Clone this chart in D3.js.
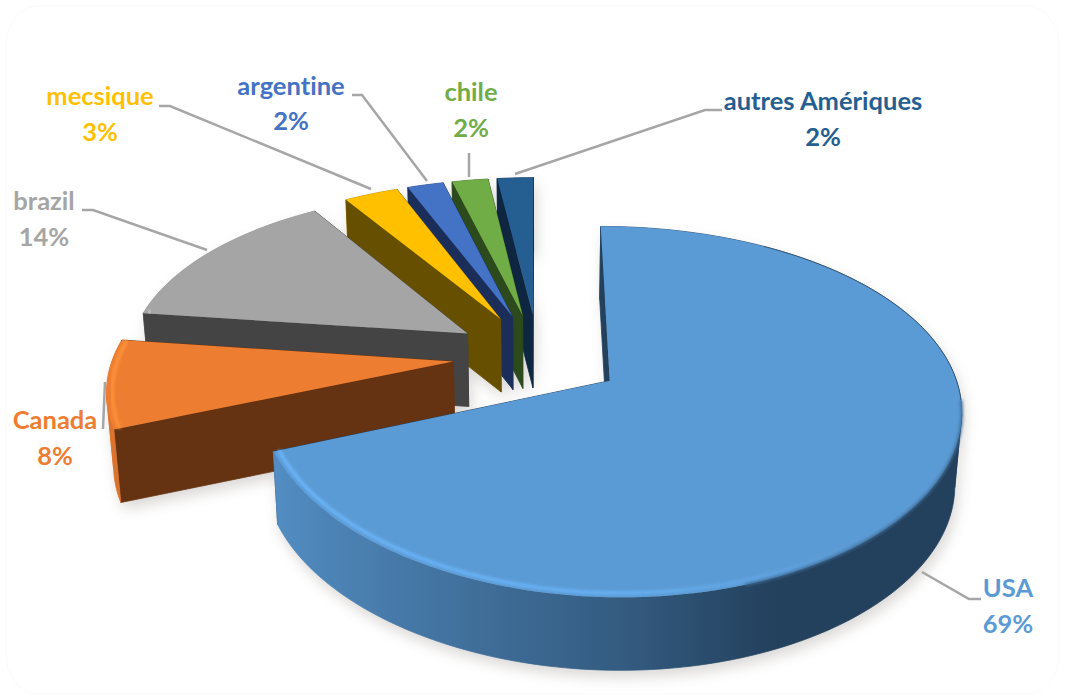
<!DOCTYPE html>
<html>
<head>
<meta charset="utf-8">
<script src="https://cdn.jsdelivr.net/npm/d3@7/dist/d3.min.js"></script>
<style>
  html, body { margin: 0; padding: 0; background: #fff; }
  svg { display: block; }
  text { font-family: Lato, "Open Sans", sans-serif; font-weight: 700; font-size: 25.5px; font-variant-ligatures: none; }
</style>
</head>
<body>
<svg id="chart" width="1065" height="700"></svg>
<script>
// Shares of the American total, in percent, clockwise from twelve o'clock
const categories = ["USA", "Canada", "brazil", "mecsique", "argentine", "chile", "autres Amériques"];
const shares = [69, 8, 14, 3, 2, 2, 2];

// Face colours and the darker side colours
const topColors = ["#5b9bd5", "#ed7d31", "#a5a5a5", "#ffc000", "#4472c4", "#70ad47", "#255e91"];
const sideColors = ["#23405c", "#663312", "#444444", "#665000", "#1b2e59", "#2d4a1c", "#0f2640"];

// Label anchors: centre x, first baseline, second baseline
const labelAnchors = [
  [1008, 597, 633], [55, 429, 465], [44, 210, 246], [100, 105, 141],
  [291, 95, 130], [471, 101, 137], [823, 110, 146]
];
// Leader lines from each label towards its slice
const leaders = [
  [[922, 572], [969, 599], [981, 599]],
  [[105, 382], [103, 429]],
  [[82, 210], [93, 210], [207, 250]],
  [[159, 106], [170, 106], [371, 189]],
  [[352, 95], [362, 95], [427, 181]],
  [[469, 153], [469, 177]],
  [[722, 110], [705, 110], [515, 174]]
];

// Perspective camera for the tilted disc
const camera = { x0: 538, y0: 356, a: 340, b: 172, kx: 0.14, ky: 0.164, depth: 73, shrink: 0.9835 };
const explode = 0.25;

function project(u, v, lower) {
  let x = camera.x0 + camera.a * u / (1 - camera.kx * v);
  let y = camera.y0 + camera.b * v / (1 - camera.ky * v);
  if (lower) {
    x = camera.x0 + (x - camera.x0) * camera.shrink;
    y += camera.depth;
  }
  return [x, y];
}

const svg = d3.select("#chart");
const defs = svg.append("defs");
defs.append("filter").attr("id", "soft").attr("x", "-20%").attr("y", "-20%").attr("width", "140%").attr("height", "140%")
  .append("feGaussianBlur").attr("stdDeviation", 7);
defs.append("filter").attr("id", "bevel").attr("x", "-5%").attr("y", "-5%").attr("width", "110%").attr("height", "110%")
  .append("feGaussianBlur").attr("stdDeviation", 1.5);

// Faint rounded card behind the chart
svg.append("rect").attr("x", 6).attr("y", 6).attr("width", 1053).attr("height", 688).attr("rx", 32).attr("ry", 40)
  .attr("fill", "#fff").attr("stroke", "#fbfbfb");

const line = d3.line();
const pie = d3.pie().sort(null).value(d => d)(shares);
const step = Math.PI / 120;

// Geometry of every slice from the pie layout
const slices = pie.map((d, i) => {
  const mid = (d.startAngle + d.endAngle) / 2;
  const cu = explode * Math.sin(mid);
  const cv = -explode * Math.cos(mid);
  const angles = d3.range(d.startAngle, d.endAngle, step).concat([d.endAngle]);
  const rim = angles.map(a => [a, cu + Math.sin(a), cv - Math.cos(a)]);
  return { i, cu, cv, rim };
});

const shade = d3.scaleLinear().domain([-1, 0, 0.4]).range([0.12, 0.7, 1]).clamp(true);

// Side shading runs left to right across the near half of the rim
slices.forEach(s => {
  const near = s.rim.filter(r => Math.cos(r[0]) < 0);
  const tint = d3.interpolateRgb(topColors[s.i], sideColors[s.i]);
  if (near.length < 2) { s.rimFill = tint(shade(Math.sin(s.rim[0][0]))); return; }
  const xs = near.map(r => project(r[1], r[2], true)[0]);
  const x0 = d3.min(xs), x1 = d3.max(xs);
  const grad = defs.append("linearGradient").attr("id", "rim" + s.i).attr("gradientUnits", "userSpaceOnUse")
    .attr("x1", x0).attr("x2", x1).attr("y1", 0).attr("y2", 0);
  near.map((r, j) => [(xs[j] - x0) / (x1 - x0), tint(shade(Math.sin(r[0])))])
    .sort((m, n) => d3.ascending(m[0], n[0]))
    .forEach(st => grad.append("stop").attr("offset", st[0]).attr("stop-color", st[1]));
  s.rimFill = "url(#rim" + s.i + ")";
});

function wallQuad(p, q) {
  return line([project(p[0], p[1]), project(q[0], q[1]), project(q[0], q[1], true), project(p[0], p[1], true)]) + "Z";
}

// Outer wall strip along a run of consecutive rim points
function rimStrip(run) {
  const upper = run.map(r => project(r[1], r[2]));
  const lower = run.map(r => project(r[1], r[2], true)).reverse();
  return line(upper.concat(lower)) + "Z";
}

function wallPieces(s) {
  const apex = [s.cu, s.cv];
  const first = s.rim[0], last = s.rim[s.rim.length - 1];
  const d0 = (s.cv + first[2]) / 2, d1 = (s.cv + last[2]) / 2;
  const pieces = [
    { d: wallQuad(apex, [first[1], first[2]]), depth: d0, fill: sideColors[s.i] },
    { d: wallQuad(apex, [last[1], last[2]]), depth: d1, fill: sideColors[s.i] }
  ];
  // Rim parts nearer than both cut faces go on top of them, the rest underneath
  const limit = Math.max(d0, d1);
  let run = [s.rim[0]];
  for (let j = 1; j < s.rim.length; j++) {
    const r = s.rim[j];
    run.push(r);
    const flips = j < s.rim.length - 1 && (r[2] > limit) !== (s.rim[j + 1][2] > limit);
    if (flips || j === s.rim.length - 1) {
      const meanV = d3.mean(run, t => t[2]);
      pieces.push({ d: rimStrip(run), depth: meanV > limit ? limit + 1 : limit - 1, fill: s.rimFill });
      run = [r];
    }
  }
  return pieces.sort((m, n) => d3.ascending(m.depth, n.depth));
}

function facePath(s) {
  const pts = [project(s.cu, s.cv)].concat(s.rim.map(r => project(r[1], r[2])));
  return line(pts) + "Z";
}

// Soft shadow under the whole stack
const shadow = svg.append("g").attr("filter", "url(#soft)").attr("opacity", 0.2)
  .attr("transform", "translate(3,7)");
slices.forEach(s => {
  shadow.selectAll(null).data(wallPieces(s)).join("path").attr("d", d => d.d).attr("fill", "#4a4036");
});

const bevelStrength = d3.scaleLinear().domain([-1, 0, 0.6]).range([1, 0.75, 0]).clamp(true);

// Far slices first so nearer ones overlap them
slices.slice().reverse().forEach(s => {
  const g = svg.append("g");
  g.selectAll(null).data(wallPieces(s)).join("path")
    .attr("d", d => d.d).attr("fill", d => d.fill).attr("stroke", d => d.fill).attr("stroke-width", 0.8);
  g.append("path").attr("d", facePath(s)).attr("fill", topColors[s.i]);

  // Light bevel along the near rim, soft edge on the near right, hairline on the far right
  const edges = g.append("g").attr("filter", "url(#bevel)");
  const fine = g.append("g");
  const inset = r => [s.cu + (r[1] - s.cu) * 0.984, s.cv + (r[2] - s.cv) * 0.984];
  d3.pairs(s.rim).forEach(([p, q]) => {
    const a = (p[0] + q[0]) / 2, sin = Math.sin(a), depth = -Math.cos(a);
    const strength = bevelStrength(sin) * (depth > -0.15 ? 1 : 0);
    if (strength > 0) {
      const ip = inset(p), iq = inset(q);
      edges.append("path").attr("d", line([project(ip[0], ip[1]), project(iq[0], iq[1])]))
        .attr("stroke", d3.color(topColors[s.i]).brighter(0.5).formatHex())
        .attr("stroke-width", 3.4).attr("stroke-opacity", strength).attr("fill", "none");
    }
    if (sin > 0.3 && depth > 0.1) {
      edges.append("path").attr("d", line([project(p[1], p[2]), project(q[1], q[2])]))
        .attr("stroke", d3.interpolateRgb(topColors[s.i], sideColors[s.i])(0.5))
        .attr("stroke-width", 2.6).attr("fill", "none");
    }
    if (sin > 0.3 && depth > -0.85 && depth <= 0.1) {
      fine.append("path").attr("d", line([project(p[1], p[2]), project(q[1], q[2])]))
        .attr("stroke", sideColors[s.i]).attr("stroke-opacity", 0.6).attr("stroke-width", 1).attr("fill", "none");
    }
  });
});

// Leader lines
svg.append("g").selectAll("path").data(leaders).join("path")
  .attr("d", d => line(d)).attr("fill", "none").attr("stroke", "#a6a6a6").attr("stroke-width", 2.5);

// Two-line labels: name and share
const labels = svg.append("g").attr("text-anchor", "middle").selectAll("g")
  .data(categories).join("g").attr("fill", (d, i) => topColors[i]);
labels.append("text").attr("x", (d, i) => labelAnchors[i][0]).attr("y", (d, i) => labelAnchors[i][1]).text(d => d);
labels.append("text").attr("x", (d, i) => labelAnchors[i][0]).attr("y", (d, i) => labelAnchors[i][2]).text((d, i) => shares[i] + "%");
</script>
</body>
</html>
